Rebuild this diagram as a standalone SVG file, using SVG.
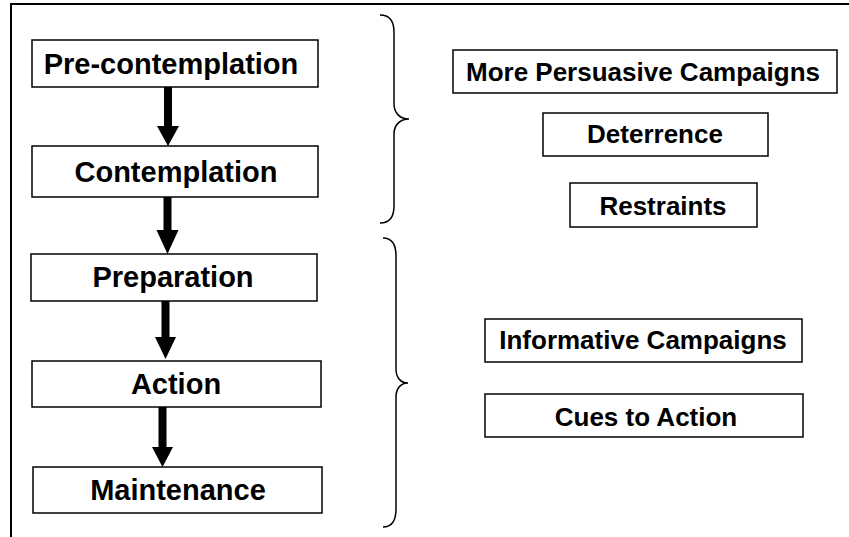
<svg xmlns="http://www.w3.org/2000/svg" width="849" height="537" viewBox="0 0 849 537">
  <style>
    .box { fill: #fff; stroke: #000; stroke-width: 1.5; }
    .lbl { font-family: "Liberation Sans", Arial, sans-serif; font-weight: bold; fill: #000; text-anchor: middle; }
    .stage { font-size: 29px; }
    .tactic { font-size: 26px; }
    .brace { fill: none; stroke: #000; stroke-width: 1.5; }
    .frame { fill: none; stroke: #000; stroke-width: 2; }
    .shaft { fill: #000; }
  </style>

  <rect x="0" y="0" width="849" height="537" fill="#fff"/>

  <!-- outer frame: top and left edges -->
  <path class="frame" d="M 11 537 L 11 4 L 849 4"/>

  <!-- stage sequence -->
  <g id="pre-contemplation">
    <rect class="box" x="32" y="40" width="286" height="47"/>
    <text class="lbl stage" x="171" y="74">Pre-contemplation</text>
  </g>
  <g id="contemplation">
    <rect class="box" x="32" y="146" width="286" height="51"/>
    <text class="lbl stage" x="176" y="182">Contemplation</text>
  </g>
  <g id="preparation">
    <rect class="box" x="31" y="254" width="286" height="47"/>
    <text class="lbl stage" x="173" y="287">Preparation</text>
  </g>
  <g id="action">
    <rect class="box" x="32" y="361" width="289" height="46"/>
    <text class="lbl stage" x="176" y="394">Action</text>
  </g>
  <g id="maintenance">
    <rect class="box" x="33" y="467" width="289" height="46"/>
    <text class="lbl stage" x="178" y="500">Maintenance</text>
  </g>

  <!-- interventions -->
  <g id="more-persuasive-campaigns">
    <rect class="box" x="453" y="50" width="384" height="43"/>
    <text class="lbl tactic" x="643" y="81">More Persuasive Campaigns</text>
  </g>
  <g id="deterrence">
    <rect class="box" x="543" y="113" width="225" height="43"/>
    <text class="lbl tactic" x="655" y="143">Deterrence</text>
  </g>
  <g id="restraints">
    <rect class="box" x="570" y="183" width="187" height="44"/>
    <text class="lbl tactic" x="663" y="215">Restraints</text>
  </g>
  <g id="informative-campaigns">
    <rect class="box" x="485" y="319" width="317" height="43"/>
    <text class="lbl tactic" x="643" y="349">Informative Campaigns</text>
  </g>
  <g id="cues-to-action">
    <rect class="box" x="485" y="394" width="318" height="43"/>
    <text class="lbl tactic" x="646" y="426">Cues to Action</text>
  </g>

  <!-- connectors: thick block arrows between stages, and grouping braces -->
  <g id="connectors">
    <path class="shaft" d="M 164 87 L 172 87 L 172 126 L 179 126 L 168 146 L 157 126 L 164 126 Z"/>
    <path class="shaft" d="M 163.5 197 L 171.5 197 L 171.5 230 L 178.5 230 L 167.5 254 L 156.5 230 L 163.5 230 Z"/>
    <path class="shaft" d="M 161.5 301 L 169.5 301 L 169.5 337 L 176 337 L 165.5 359 L 155 337 L 161.5 337 Z"/>
    <path class="shaft" d="M 158.5 407 L 166.5 407 L 166.5 447 L 173 447 L 162.5 467 L 152 447 L 158.5 447 Z"/>

    <path class="brace" d="M 380 15 C 389 15 394 21 394 32 L 394 104 C 394 113 400 119 409 119 C 400 119 394 125 394 134 L 394 206 C 394 217 389 223 380 223"/>
    <path class="brace" d="M 383 238 C 391 238 396 244 396 256 L 396 369 C 396 378 401 383 408 383 C 401 383 396 388 396 397 L 396 509 C 396 521 391 527 383 527"/>
  </g>
</svg>
